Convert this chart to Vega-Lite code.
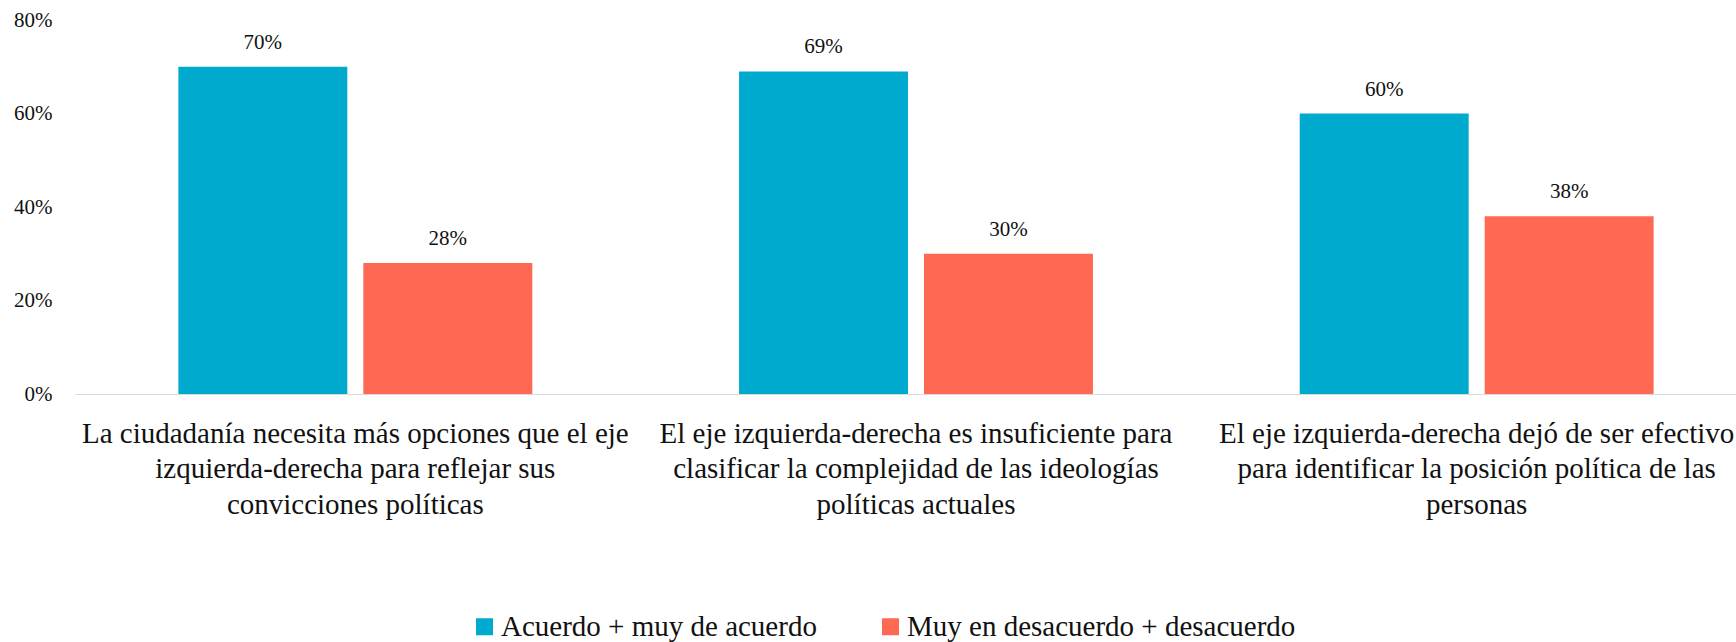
{
  "$schema": "https://vega.github.io/schema/vega-lite/v6.json",
  "autosize": {"type": "none"},
  "width": 1661,
  "height": 374,
  "padding": {"left": 75, "top": 20, "right": 0, "bottom": 248},
  "background": "white",
  "config": {
    "view": {"stroke": null},
    "font": "Liberation Serif",
    "axis": {"labelFont": "Liberation Serif", "labelColor": "#111111", "grid": false, "ticks": false, "tickSize": 0, "title": null}
  },
  "data": {
    "values": [
      {"pregunta": "La ciudadanía necesita más opciones que el eje izquierda-derecha para reflejar sus convicciones políticas", "serie": "Acuerdo + muy de acuerdo", "valor": 0.70},
      {"pregunta": "La ciudadanía necesita más opciones que el eje izquierda-derecha para reflejar sus convicciones políticas", "serie": "Muy en desacuerdo + desacuerdo", "valor": 0.28},
      {"pregunta": "El eje izquierda-derecha es insuficiente para clasificar la complejidad de las ideologías políticas actuales", "serie": "Acuerdo + muy de acuerdo", "valor": 0.69},
      {"pregunta": "El eje izquierda-derecha es insuficiente para clasificar la complejidad de las ideologías políticas actuales", "serie": "Muy en desacuerdo + desacuerdo", "valor": 0.30},
      {"pregunta": "El eje izquierda-derecha dejó de ser efectivo para identificar la posición política de las personas", "serie": "Acuerdo + muy de acuerdo", "valor": 0.60},
      {"pregunta": "El eje izquierda-derecha dejó de ser efectivo para identificar la posición política de las personas", "serie": "Muy en desacuerdo + desacuerdo", "valor": 0.38}
    ]
  },
  "encoding": {
    "x": {
      "field": "pregunta",
      "type": "nominal",
      "sort": null,
      "scale": {"paddingInner": 0, "paddingOuter": 0, "range": [0, 1682]},
      "axis": {
        "labelAngle": 0,
        "labelFontSize": 29,
        "labelLineHeight": 35.8,
        "labelBaseline": "alphabetic",
        "labelPadding": 48,
        "labelLimit": 0,
        "labelOverlap": false,
        "domainColor": "#d9d9d9",
        "domainWidth": 1,
        "labelExpr": "indexof(datum.value, 'La ciudadan') == 0 ? ['La ciudadanía necesita más opciones que el eje', 'izquierda-derecha para reflejar sus', 'convicciones políticas'] : indexof(datum.value, 'insuficiente') > 0 ? ['El eje izquierda-derecha es insuficiente para', 'clasificar la complejidad de las ideologías', 'políticas actuales'] : ['El eje izquierda-derecha dejó de ser efectivo', 'para identificar la posición política de las', 'personas']"
      }
    },
    "xOffset": {
      "field": "serie",
      "type": "nominal",
      "sort": ["Acuerdo + muy de acuerdo", "Muy en desacuerdo + desacuerdo"],
      "scale": {"paddingInner": 0.0865, "paddingOuter": 0.559}
    },
    "y": {
      "field": "valor",
      "type": "quantitative",
      "scale": {"domain": [0, 0.8], "nice": false},
      "axis": {
        "values": [0, 0.2, 0.4, 0.6, 0.8],
        "format": ".0%",
        "domain": false,
        "labelFontSize": 21,
        "labelPadding": 23
      }
    },
    "color": {
      "field": "serie",
      "type": "nominal",
      "scale": {"domain": ["Acuerdo + muy de acuerdo", "Muy en desacuerdo + desacuerdo"], "range": ["#00A9CE", "#FF6853"]},
      "legend": {
        "title": null,
        "orient": "none",
        "legendX": 395,
        "legendY": 592,
        "direction": "horizontal",
        "symbolType": "square",
        "symbolSize": 289,
        "symbolStrokeWidth": 0,
        "labelFont": "Liberation Serif",
        "labelFontSize": 29,
        "labelColor": "#111111",
        "labelLimit": 0,
        "labelOffset": 2,
        "columnPadding": 59
      }
    }
  },
  "layer": [
    {"mark": {"type": "bar"}},
    {
      "mark": {"type": "text", "baseline": "alphabetic", "dy": -18, "fontSize": 21, "color": "#111111", "font": "Liberation Serif"},
      "encoding": {"text": {"field": "valor", "type": "quantitative", "format": ".0%"}, "color": {"value": "#111111"}}
    }
  ]
}
